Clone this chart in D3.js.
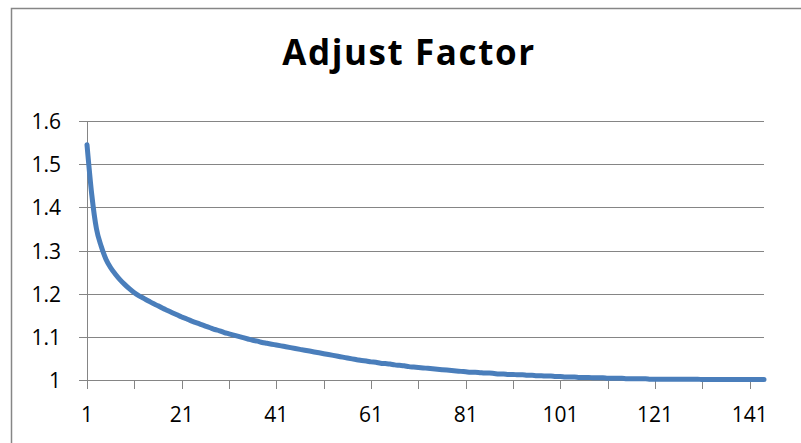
<!DOCTYPE html>
<meta charset="utf-8">
<style>
body { margin: 0; background: #fff; }
svg { display: block; font-family: "Open Sans", sans-serif; }
.grid line { stroke: #858585; stroke-width: 1px; shape-rendering: crispEdges; }
.axis path, .axis line { stroke: #858585; stroke-width: 1px; shape-rendering: crispEdges; }
.axis text { fill: #000; font-size: 21px; font-family: "Open Sans", sans-serif; }
.line { fill: none; stroke: #4a7ebb; stroke-width: 5px; stroke-linejoin: round; stroke-linecap: round; }
</style>
<svg width="801" height="443"></svg>
<script src="https://d3js.org/d3.v7.min.js"></script>
<script>
var title = "Adjust Factor";
var yTicks = [1, 1.1, 1.2, 1.3, 1.4, 1.5, 1.6];
var xTickLabels = [1, 21, 41, 61, 81, 101, 121, 141];
var xTickMarks = [1, 11, 21, 31, 41, 51, 61, 71, 81, 91, 101, 111, 121, 131, 141];
var factor = [
  1.545, 1.430, 1.350, 1.310, 1.280, 1.260, 1.245, 1.232, 1.221, 1.211,
  1.202, 1.195, 1.189, 1.183, 1.177, 1.172, 1.166, 1.161, 1.156, 1.151,
  1.146, 1.142, 1.137, 1.133, 1.129, 1.125, 1.121, 1.117, 1.114, 1.110,
  1.107, 1.104, 1.101, 1.098, 1.095, 1.092, 1.090, 1.087, 1.085, 1.083,
  1.081, 1.079, 1.077, 1.075, 1.073, 1.071, 1.069, 1.067, 1.065, 1.063,
  1.061, 1.059, 1.057, 1.055, 1.053, 1.051, 1.049, 1.047, 1.045, 1.044,
  1.042, 1.041, 1.039, 1.038, 1.037, 1.035, 1.034, 1.033, 1.031, 1.030,
  1.029, 1.028, 1.027, 1.026, 1.025, 1.024, 1.023, 1.022, 1.021, 1.020,
  1.019, 1.018, 1.018, 1.017, 1.016, 1.016, 1.015, 1.014, 1.014, 1.013,
  1.013, 1.012, 1.012, 1.011, 1.011, 1.010, 1.010, 1.009, 1.009, 1.008,
  1.008, 1.007, 1.007, 1.007, 1.006, 1.006, 1.006, 1.005, 1.005, 1.005,
  1.004, 1.004, 1.004, 1.004, 1.003, 1.003, 1.003, 1.003, 1.003, 1.002,
  1.002, 1.002, 1.002, 1.002, 1.002, 1.002, 1.002, 1.002, 1.002, 1.002,
  1.001, 1.001, 1.001, 1.001, 1.001, 1.001, 1.001, 1.001, 1.001, 1.001,
  1.001, 1.001, 1.001, 1.001
];

var svg = d3.select("svg");

// chart border (cut off at right/bottom like the source)
svg.append("rect")
    .attr("x", 11.5).attr("y", 8.5)
    .attr("width", 900).attr("height", 900)
    .attr("fill", "none")
    .attr("stroke", "#868686")
    .attr("stroke-width", 1.5);

svg.append("text")
    .attr("x", 409).attr("y", 65)
    .attr("text-anchor", "middle")
    .style("font-size", "35px")
    .style("font-weight", "bold")
    .style("letter-spacing", "1.6px")
    .text(title);

var plotLeft = 87, plotRight = 764, plotTop = 121, plotBottom = 380;

var x = d3.scaleLinear().domain([1, factor.length]).range([plotLeft, plotRight]);
var y = d3.scaleLinear().domain([1, 1.6]).range([plotBottom, plotTop]);

// horizontal gridlines with small tick stubs left of the axis
svg.append("g")
    .attr("class", "grid")
  .selectAll("line")
  .data(yTicks)
  .enter().append("line")
    .attr("x1", plotLeft - 8)
    .attr("x2", plotRight)
    .attr("y1", function(d) { return Math.round(y(d)) + 0.5; })
    .attr("y2", function(d) { return Math.round(y(d)) + 0.5; });

var yAxis = svg.append("g")
    .attr("class", "axis axis--y")
    .attr("transform", "translate(" + plotLeft + ",0)")
    .call(d3.axisLeft(y).tickValues(yTicks).tickSize(8).tickPadding(18)
      .tickFormat(function(d) { return d3.format("")(+d.toFixed(1)); }));
yAxis.attr("font-size", null).attr("font-family", null);
yAxis.select(".domain").remove();
yAxis.selectAll(".tick line").remove();
yAxis.selectAll(".tick text").attr("dy", "0.36em");

svg.append("line")
    .attr("x1", plotLeft + 0.5).attr("x2", plotLeft + 0.5)
    .attr("y1", plotTop).attr("y2", plotBottom)
    .attr("stroke", "#858585");

var xAxis = svg.append("g")
    .attr("class", "axis axis--x")
    .attr("transform", "translate(0," + (Math.round(plotBottom) + 0.5) + ")");

xAxis.append("line")
    .attr("x1", plotLeft - 8).attr("x2", plotRight)
    .attr("stroke", "#858585");

xAxis.selectAll(".tick")
  .data(xTickMarks)
  .enter().append("line")
    .attr("class", "tick")
    .attr("x1", function(d) { return Math.round(x(d)) + 0.5; })
    .attr("x2", function(d) { return Math.round(x(d)) + 0.5; })
    .attr("y1", 0).attr("y2", 8)
    .attr("stroke", "#858585");

xAxis.selectAll("text")
  .data(xTickLabels)
  .enter().append("text")
    .attr("x", function(d) { return x(d); })
    .attr("y", 41)
    .attr("text-anchor", "middle")
    .text(function(d) { return d; });

var line = d3.line()
    .x(function(d, i) { return x(i + 1); })
    .y(function(d) { return y(d); })
    .curve(d3.curveMonotoneX);

svg.append("path")
    .datum(factor)
    .attr("class", "line")
    .attr("d", line);
</script>
